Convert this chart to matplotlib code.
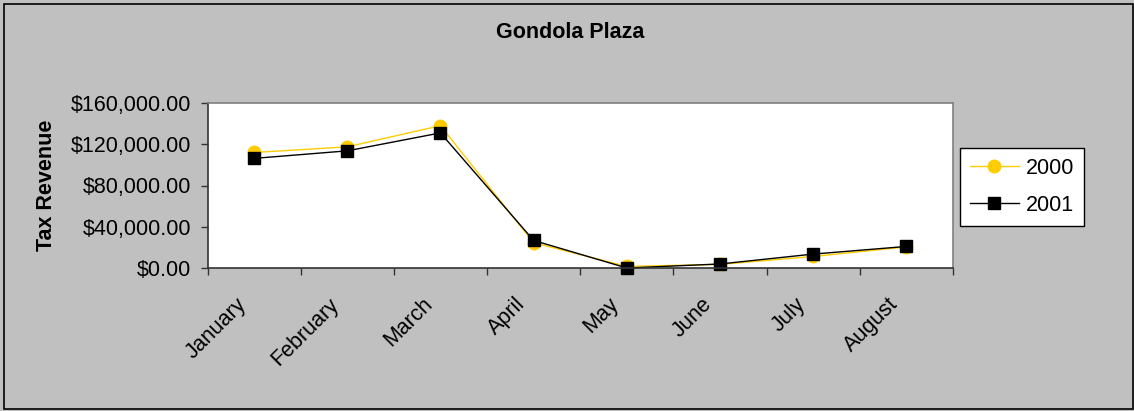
import matplotlib.pyplot as plt
from matplotlib.patches import Rectangle

plt.rcParams['font.family'] = ['Liberation Sans', 'DejaVu Sans']

months = ['January', 'February', 'March', 'April', 'May', 'June', 'July', 'August']
rev_2000 = [112000, 117500, 138000, 24500, 1500, 3500, 11200, 20500]
rev_2001 = [106300, 113600, 131000, 26700, 0, 3900, 13500, 20900]
yticks = [0, 40000, 80000, 120000, 160000]

W, H = 1134, 411
fig = plt.figure(figsize=(W / 100, H / 100), dpi=100)
fig.patch.set_facecolor('#C0C0C0')
fig.patches.append(Rectangle((4 / W, 2 / H), 1128.5 / W, 405 / H, transform=fig.transFigure,
                             fill=False, edgecolor='black', linewidth=1.2))

ax = fig.add_axes([207.5 / W, 1 - 268 / H, 745.5 / W, 165 / H])
ax.set_facecolor('white')

x = list(range(len(months)))
ax.plot(x, rev_2000, color='#FFCC00', linewidth=1, marker='o', markersize=9,
        markerfacecolor='#FFCC00', markeredgecolor='#FFCC00', label='2000', clip_on=False)
ax.plot(x, rev_2001, color='black', linewidth=1, marker='s', markersize=8.5,
        markerfacecolor='black', markeredgecolor='black', label='2001', clip_on=False)

ax.set_xlim(-0.5, len(months) - 0.5)
ax.set_ylim(0, 160000)
ax.set_yticks(yticks)
ax.set_yticklabels(['${:,.2f}'.format(v) for v in yticks], fontsize=15.5)
# labels sit a little left of the category centre, like Excel's rotated labels
ax.set_xticks([i - 0.12 for i in x])
ax.set_xticklabels(months, fontsize=15.5, rotation=45, ha='right', va='center',
                   rotation_mode='anchor')
ax.set_xticks([i - 0.5 for i in range(len(months) + 1)], minor=True)
ax.tick_params(axis='x', which='major', length=0, pad=24)
ax.tick_params(axis='x', which='minor', length=5, width=1, direction='out', color='#333333')
ax.tick_params(axis='y', length=5, width=1, direction='out', color='#333333', pad=7)

for s in ['left', 'bottom']:
    ax.spines[s].set_color('#333333')
    ax.spines[s].set_linewidth(1.2)
for s in ['top', 'right']:
    ax.spines[s].set_color('#808080')
    ax.spines[s].set_linewidth(1.2)

ax.set_ylabel('Tax Revenue', fontsize=15.5, fontweight='bold')
ax.yaxis.set_label_coords(-0.202, 0.5)
fig.text(570 / W, 1 - 32 / H, 'Gondola Plaza', fontsize=15.5, fontweight='bold',
         ha='center', va='center')

leg = fig.legend(loc='upper left', bbox_to_anchor=(960 / W, 1 - 148 / H), fontsize=15.5,
                 frameon=True, fancybox=False, edgecolor='black', facecolor='white',
                 framealpha=1, handlelength=2.3, borderaxespad=0, labelspacing=0.75,
                 borderpad=0.45, handletextpad=0.3)
leg.get_frame().set_linewidth(1)

fig.savefig('out.png', dpi=100, facecolor=fig.get_facecolor())
